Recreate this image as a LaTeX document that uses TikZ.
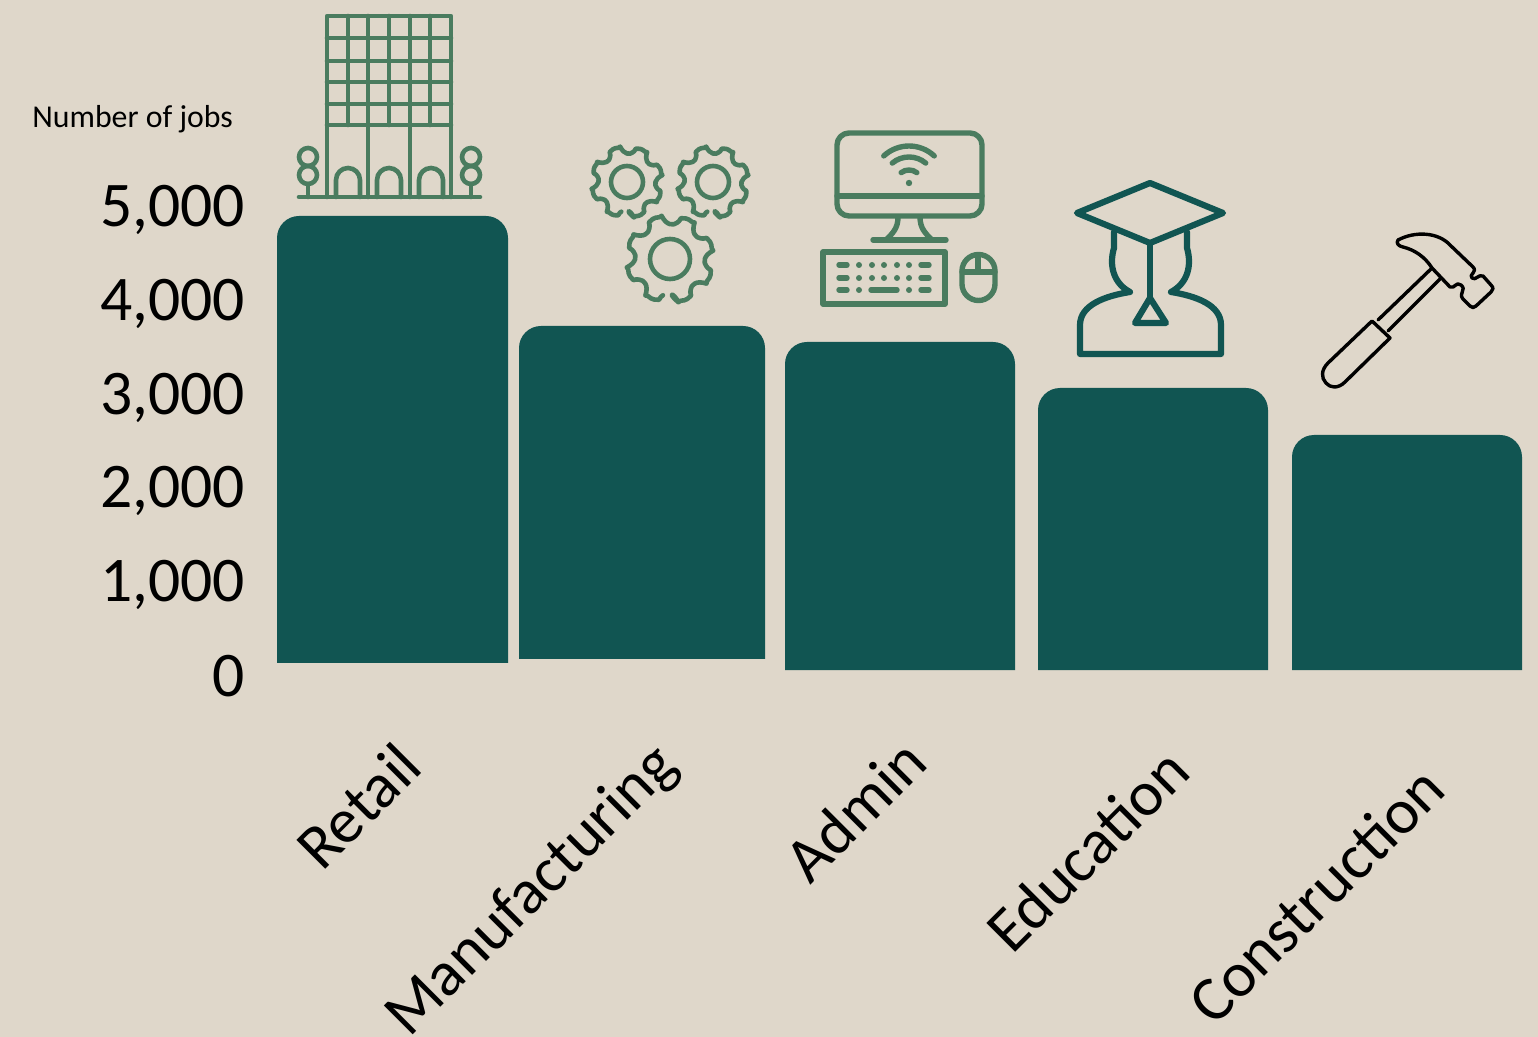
\documentclass[tikz,border=0pt]{standalone}
\usepackage{fontspec}
\setmainfont{Carlito}
\definecolor{bgc}{HTML}{DFD7CA}
\definecolor{barc}{HTML}{115552}
\definecolor{icong}{HTML}{4A7C5F}
\tikzset{
  barshape/.style={fill=barc,draw=none,rounded corners=11pt},
  axislab/.style={font=\fontsize{31.8}{36}\selectfont,anchor=east,inner sep=0pt,text=black},
  catlab/.style={font=\fontsize{31.8}{36}\selectfont,rotate=45,anchor=center,inner sep=0pt,text=black},
  ticon/.style={draw=icong,line width=2.3pt,line cap=round,line join=round},
  compicon/.style={draw=icong,line width=2.7pt,line cap=round,line join=round},
  capicon/.style={draw=barc,line width=3.1pt,line cap=round,line join=round},
  hammericon/.style={draw=black,line width=1.7pt,line cap=round,line join=round},
}
\newcommand{\gearicon}[4]{% cx cy outerR ringR
  \begin{scope}[shift={(#1,#2)}]
    \draw[ticon] (0,0) circle (#4);
    \draw[ticon] (90-11:#3)
      \foreach \a in {90,45,0,-45,-90,-135,-180,-225}{
        .. controls (\a+6:#3*0.76) and (\a-6:#3*0.76) .. (\a-11:#3)
        -- (\a-14:#3*0.98)
        .. controls (\a-22:#3*1.02) and (\a-26:#3*0.98) .. (\a-30:#3*0.96)
        .. controls (\a-31:#3*0.88) and (\a-33:#3*0.86) .. (\a-34:#3*0.84)
        -- (\a-34:#3*0.84)
      } ;
  \end{scope}
}
\begin{document}
\begin{tikzpicture}[x=0.5pt,y=-0.5pt]
\useasboundingbox (0,0) rectangle (1538,1037);
\clip (0,0) rectangle (1538,1037);
\fill[bgc] (0,0) rectangle (1538,1037);
% bars
\fill[barshape] (277,663) [sharp corners] -- (277,400) [rounded corners=11pt] -- (277,216) -- (508,216) -- (508,400) [sharp corners] -- (508,663) -- cycle;
\fill[barshape] (519,659) [sharp corners] -- (519,500) [rounded corners=11pt] -- (519,326) -- (765,326) -- (765,500) [sharp corners] -- (765,659) -- cycle;
\fill[barshape] (785,670) [sharp corners] -- (785,500) [rounded corners=11pt] -- (785,342) -- (1015,342) -- (1015,500) [sharp corners] -- (1015,670) -- cycle;
\fill[barshape] (1038,670) [sharp corners] -- (1038,500) [rounded corners=11pt] -- (1038,388) -- (1268,388) -- (1268,500) [sharp corners] -- (1268,670) -- cycle;
\fill[barshape] (1292,670) [sharp corners] -- (1292,550) [rounded corners=11pt] -- (1292,435) -- (1522,435) -- (1522,550) [sharp corners] -- (1522,670) -- cycle;
% axis text
\node[font=\fontsize{15.9}{18}\selectfont,anchor=west,inner sep=0pt] (ytitle) at (32,119) {Number of jobs};
\node[axislab] (y5) at (245.5,210) {5,000};
\node[axislab] (y4) at (245.5,304) {4,000};
\node[axislab] (y3) at (245.5,398) {3,000};
\node[axislab] (y2) at (245.5,491) {2,000};
\node[axislab] (y1) at (245.5,585) {1,000};
\node[axislab] (y0) at (245.5,676) {0};
\node[catlab] (c1) at (358,806) {Retail};
\node[catlab] (c2) at (533,892) {Manufacturing};
\node[catlab] (c3) at (855,810) {Admin};
\node[catlab] (c4) at (1087,850) {Education};
\node[catlab] (c5) at (1316,895) {Construction};
% building
\draw[ticon] (327,197) -- (327,16) -- (451,16) -- (451,197);
\foreach \y in {38,61,82,104,125}{\draw[ticon] (327,\y) -- (451,\y);}
\foreach \x in {348,389,430}{\draw[ticon] (\x,16) -- (\x,125);}
\foreach \x in {368,410}{\draw[ticon] (\x,16) -- (\x,197);}
\draw[ticon] (299,197) -- (480,197);
\foreach \x in {348,389,431}{\draw[ticon] (\x-12,197) -- (\x-12,180) arc[start angle=180,end angle=360,radius=12] -- (\x+12,197);}
\foreach \x in {308,471}{
  \draw[ticon] (\x,157) circle (9);
  \draw[ticon] (\x,175) circle (9);
  \draw[ticon] (\x,184) -- (\x,197);
}
% gears
\gearicon{627}{182}{36}{16}
\gearicon{713}{182}{36}{16}
\gearicon{670}{259}{44}{20}
% computer
\draw[compicon,rounded corners=6pt] (837,133) rectangle (982,216);
\draw[compicon] (837,196) -- (982,196);
\draw[compicon] (898,217) .. controls (898,228) and (893,233) .. (886,240);
\draw[compicon] (920,217) .. controls (920,228) and (925,233) .. (932,240);
\draw[compicon] (873,240) -- (946,240);
\draw[compicon] (823,252) rectangle (945,304);
\foreach \y in {265,278,290}{
  \draw[compicon] (839,\y) -- (847,\y);
  \draw[compicon] (921,\y) -- (929,\y);
  \fill[icong] (859,\y) circle (3);
  \fill[icong] (909,\y) circle (3);
}
\foreach \y in {265,278}{\foreach \x in {872,884,897}{\fill[icong] (\x,\y) circle (3);}}
\draw[compicon] (871,290) -- (897,290);
\draw[compicon] (962,271) arc[start angle=180,end angle=360,radius=16.5] -- (995,284) arc[start angle=0,end angle=180,radius=16.5] -- cycle;
\draw[compicon] (962,272) -- (995,272);
\draw[compicon] (978,255) -- (978,272);
\fill[icong] (909,183) circle (3.2);
\draw[compicon] (909,183) ++(-127:13) arc[start angle=-127,end angle=-53,radius=13];
\draw[compicon] (909,183) ++(-130:26) arc[start angle=-130,end angle=-50,radius=26];
\draw[compicon] (909,183) ++(-133:37) arc[start angle=-133,end angle=-47,radius=37];
% graduate
\draw[capicon] (1150,183) -- (1223,213) -- (1150,243) -- (1077,213) -- cycle;
\draw[capicon] (1150,243) -- (1150,298);
\draw[capicon] (1150,298) -- (1166,323) -- (1135,323) -- cycle;
\draw[capicon] (1114,232) -- (1114,248) .. controls (1109,265) and (1113,283) .. (1130,292)
  .. controls (1105,296) and (1080,305) .. (1080,325) -- (1080,354) -- (1221,354) -- (1221,325)
  .. controls (1221,305) and (1196,296) .. (1171,292)
  .. controls (1188,283) and (1192,265) .. (1187,248) -- (1187,232);
% hammer
\draw[hammericon] (1398,240) .. controls (1415,231) and (1438,232) .. (1450,245) -- (1473,267)
  .. controls (1478,272) and (1468,275) .. (1472,278)
  .. controls (1476,281) and (1478,274) .. (1483,276)
  -- (1491,285) .. controls (1494,288) and (1493,290) .. (1491,292)
  -- (1476,306) .. controls (1474,308) and (1472,308) .. (1470,306)
  -- (1463,299) .. controls (1458,293) and (1467,290) .. (1461,285)
  .. controls (1456,281) and (1455,289) .. (1450,287)
  -- (1432,268) .. controls (1425,257) and (1415,250) .. (1403,247)
  .. controls (1398,246) and (1396,243) .. (1398,240) -- cycle;
\draw[hammericon] (1432,268) -- (1378,320);
\draw[hammericon] (1441,278) -- (1388,331);
\draw[hammericon] (1372,321) -- (1390,338) -- (1345,382) .. controls (1338,389) and (1330,388) .. (1326,383)
  .. controls (1321,378) and (1321,370) .. (1328,363) -- cycle;
\end{tikzpicture}
\end{document}
